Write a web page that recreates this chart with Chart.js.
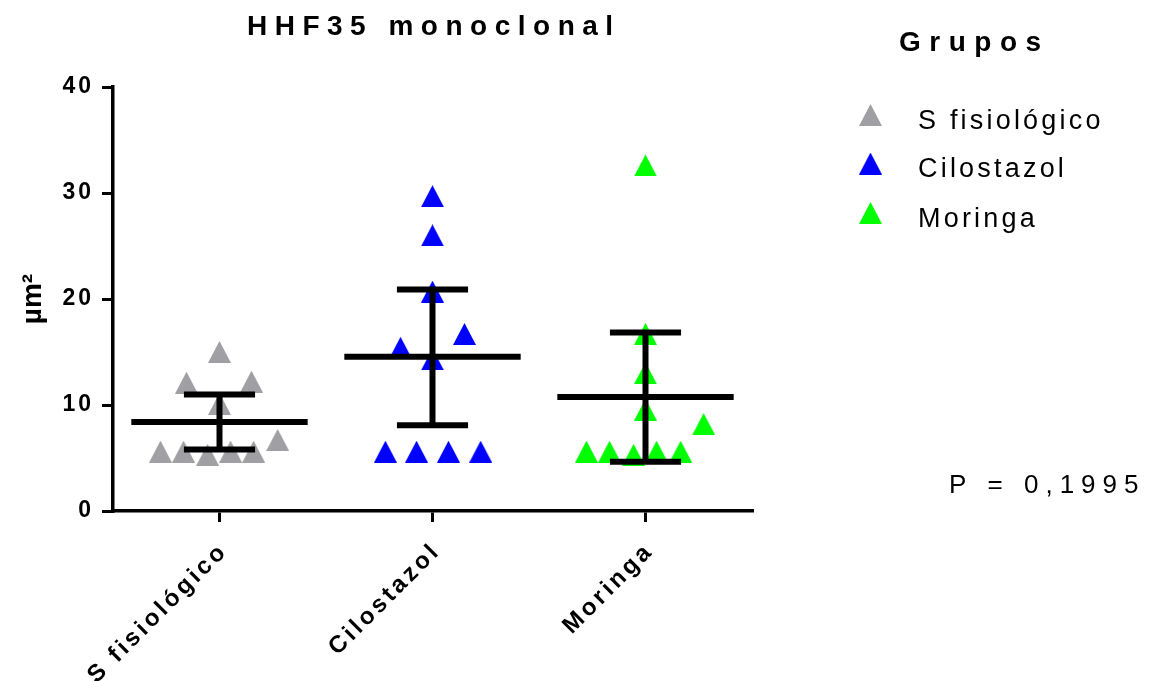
<!DOCTYPE html>
<html>
<head>
<meta charset="utf-8">
<title>HHF35 monoclonal</title>
<script src="https://cdn.jsdelivr.net/npm/chart.js@4.4.1/dist/chart.umd.min.js"></script>
<style>
  html, body { margin: 0; padding: 0; background: #ffffff; }
  #wrap { width: 1154px; height: 681px; }
</style>
</head>
<body>
<div id="wrap"><canvas id="chart" width="1154" height="681"></canvas></div>
<script>
// ---- data ----
const groups = ['S fisiológico', 'Cilostazol', 'Moringa'];

// µm² per animal, with horizontal spread inside each column (category units)
const sFisiologico       = [15.0, 12.1, 12.2, 10.1, 5.6, 5.6, 5.3, 5.6, 5.6, 6.7];
const sFisiologicoSpread = [0, -0.155, 0.150, 0, -0.277, -0.169, -0.056, 0.052, 0.160, 0.273];

const cilostazol       = [29.7, 26.0, 20.7, 16.7, 15.4, 14.3, 5.6, 5.6, 5.6, 5.6];
const cilostazolSpread = [0, 0, 0, 0.150, -0.150, 0, -0.221, -0.075, 0.075, 0.226];

const moringa       = [32.6, 16.7, 13.0, 9.55, 8.2, 5.6, 5.6, 5.3, 5.6, 5.6];
const moringaSpread = [0, 0, 0, 0, 0.273, -0.277, -0.169, -0.056, 0.052, 0.165];

// mean and 95% CI per group
const groupMeans = [8.4, 14.55, 10.75];
const ciLower    = [5.8, 8.1, 4.65];
const ciUpper    = [11.0, 20.9, 16.85];

const yTicks = [0, 10, 20, 30, 40];
const legendTitle = 'Grupos';
const chartTitle = 'HHF35 monoclonal';
const yTitle = 'µm²';
const pValueText = 'P = 0,1995';

// ---- styling ----
const FONT = '"Liberation Sans", Arial, Helvetica, sans-serif';
const colors = ['#A0A0A4', '#0000FF', '#00FF00'];

function triangleMarker(color) {
  const c = document.createElement('canvas');
  c.width = 23; c.height = 22;
  const g = c.getContext('2d');
  g.fillStyle = color;
  g.beginPath();
  g.moveTo(11.5, 0);
  g.lineTo(23, 22);
  g.lineTo(0, 22);
  g.closePath();
  g.fill();
  return c;
}
const markers = colors.map(triangleMarker);

function columnPoints(values, spread, index) {
  return values.map((v, i) => ({ x: index + 1 + spread[i], y: v }));
}

const seriesValues = [sFisiologico, cilostazol, moringa];
const seriesSpread = [sFisiologicoSpread, cilostazolSpread, moringaSpread];

const datasets = groups.map((name, i) => ({
  label: name,
  data: columnPoints(seriesValues[i], seriesSpread[i], i),
  pointStyle: markers[i],
  pointRadius: 11,
  pointHoverRadius: 11,
  backgroundColor: colors[i],
  borderColor: colors[i],
  showLine: false
}));

// widths of the mean line and CI caps, in category units
const meanHalf = 0.414;
const capHalf = 0.167;

// mean line and CI whiskers drawn over the points
const meanCiPlugin = {
  id: 'meanCi',
  afterDatasetsDraw(chart) {
    const { ctx, scales: { x, y } } = chart;
    ctx.save();
    ctx.strokeStyle = '#000';
    ctx.lineWidth = 6;
    ctx.lineCap = 'butt';
    const seg = (x0, x1, v0, v1) => {
      ctx.beginPath();
      ctx.moveTo(x.getPixelForValue(x0), y.getPixelForValue(v0));
      ctx.lineTo(x.getPixelForValue(x1), y.getPixelForValue(v1));
      ctx.stroke();
    };
    groups.forEach((g, i) => {
      const cx = i + 1;
      seg(cx, cx, ciLower[i], ciUpper[i]);
      seg(cx - capHalf, cx + capHalf, ciUpper[i], ciUpper[i]);
      seg(cx - capHalf, cx + capHalf, ciLower[i], ciLower[i]);
      seg(cx - meanHalf, cx + meanHalf, groupMeans[i], groupMeans[i]);
    });
    ctx.restore();
  }
};

// tracked tick labels
const labelSpacing = { x: '3.4px', y: '3px' };
const letterSpacingPlugin = {
  id: 'tickLetterSpacing',
  afterLayout(chart) {
    Object.keys(labelSpacing).forEach(id => {
      const scale = chart.scales[id];
      if (!scale || scale.$spaced) return;
      const draw = scale.drawLabels.bind(scale);
      scale.drawLabels = function (area) {
        const ctx = chart.ctx;
        ctx.save();
        ctx.letterSpacing = labelSpacing[id];
        draw(area);
        ctx.restore();
      };
      scale.$spaced = true;
    });
  }
};

// title, group legend and p-value
const annotationPlugin = {
  id: 'annotations',
  afterDraw(chart) {
    const ctx = chart.ctx;
    ctx.save();
    ctx.fillStyle = '#000';
    ctx.textAlign = 'left';
    ctx.textBaseline = 'alphabetic';

    ctx.font = 'bold 28px ' + FONT;
    ctx.letterSpacing = '7.5px';
    ctx.fillText(chartTitle, 247, 35);

    ctx.letterSpacing = '8.5px';
    ctx.fillText(legendTitle, 899, 51);

    const rows = [115, 163.5, 213];
    ctx.font = '27px ' + FONT;
    ctx.letterSpacing = '3.2px';
    groups.forEach((name, i) => {
      const m = markers[i];
      ctx.drawImage(m, 870.5 - m.width / 2, rows[i] - m.height / 2);
      ctx.fillText(name, 918, rows[i] + 13.5);
    });

    ctx.font = '26px ' + FONT;
    ctx.letterSpacing = '7px';
    ctx.fillText(pValueText, 949, 493);
    ctx.restore();
  }
};

new Chart(document.getElementById('chart'), {
  type: 'scatter',
  data: { datasets },
  options: {
    responsive: false,
    animation: false,
    devicePixelRatio: 1,
    layout: { padding: { left: 0, right: 402, top: 87, bottom: 0 } },
    plugins: {
      legend: { display: false },
      title: { display: false },
      tooltip: { enabled: false }
    },
    scales: {
      x: {
        type: 'linear',
        min: 0.5,
        max: 3.5,
        afterBuildTicks: s => { s.ticks = groups.map((_, i) => ({ value: i + 1 })); },
        afterFit: s => { s.height = 170; },
        ticks: {
          callback: (v, i) => groups[i],
          autoSkip: false,
          minRotation: 45,
          maxRotation: 45,
          color: '#000',
          padding: 15,
          labelOffset: 4.5,
          font: { family: FONT, size: 24, weight: 'bold' }
        },
        grid: {
          drawOnChartArea: false,
          drawTicks: true,
          tickLength: 11,
          tickWidth: 3,
          tickColor: '#000',
          color: '#000',
          lineWidth: 3
        },
        border: { display: true, color: '#000', width: 3.5 }
      },
      y: {
        min: 0,
        max: 40,
        afterBuildTicks: s => { s.ticks = yTicks.map(v => ({ value: v })); },
        afterFit: s => { s.width = 113; },
        ticks: {
          color: '#000',
          padding: 8,
          font: { family: FONT, size: 23, weight: 'bold' }
        },
        grid: {
          drawOnChartArea: false,
          drawTicks: true,
          tickLength: 11,
          tickWidth: 3,
          tickColor: '#000',
          color: '#000',
          lineWidth: 3
        },
        border: { display: true, color: '#000', width: 3.5 },
        title: {
          display: true,
          text: yTitle,
          color: '#000',
          padding: { top: 16, bottom: 0 },
          font: { family: FONT, size: 28, weight: 'bold' }
        }
      }
    }
  },
  plugins: [meanCiPlugin, letterSpacingPlugin, annotationPlugin]
});
</script>
</body>
</html>
